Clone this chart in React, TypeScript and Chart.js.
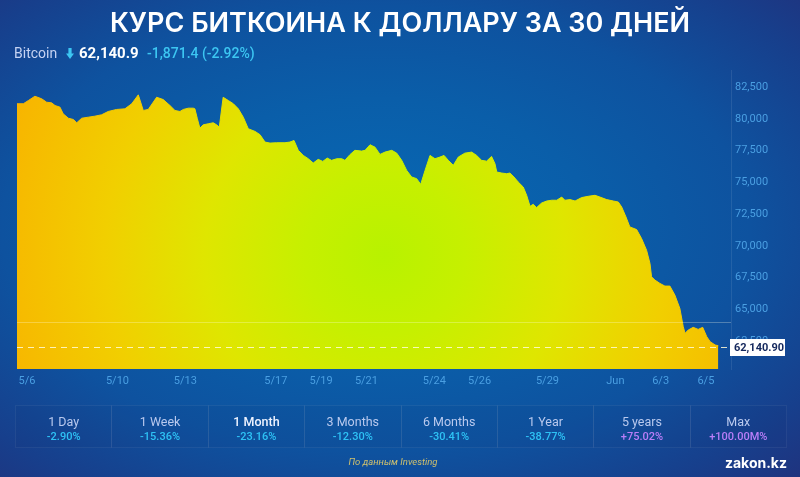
import React, { useEffect, useRef } from "react";
import { Chart, registerables } from "chart.js";

Chart.register(...registerables);

// Days since May 6 (fractional) and BTC/USD price
const dayOffsets = [
  -0.44, -0.16, 0.06, 0.35, 0.65, 0.87, 1.09, 1.24, 1.46, 1.6,
  1.83, 2.05, 2.2, 2.42, 2.71, 3.0, 3.3, 3.59, 3.96, 4.33,
  4.63, 4.92, 5.14, 5.36, 5.73, 6.02, 6.32, 6.54, 6.76, 6.91,
  7.13, 7.35, 7.42, 7.53, 7.64, 7.79, 8.01, 8.23, 8.38, 8.5,
  8.67, 8.9, 9.12, 9.34, 9.56, 9.78, 10.08, 10.3, 10.52, 10.74,
  11.03, 11.4, 11.62, 11.8, 11.99, 12.21, 12.43, 12.65, 12.87, 13.07,
  13.27, 13.46, 13.69, 13.91, 14.05, 14.27, 14.49, 14.79, 14.94, 15.16,
  15.38, 15.6, 15.82, 16.12, 16.34, 16.56, 16.78, 17.0, 17.22, 17.4,
  17.59, 17.81, 18.03, 18.25, 18.43, 18.62, 18.84, 19.06, 19.35, 19.65,
  19.87, 20.09, 20.31, 20.53, 20.68, 20.76, 20.98, 21.2, 21.34, 21.52,
  21.71, 21.93, 22.08, 22.23, 22.37, 22.52, 22.74, 22.97, 23.19, 23.41,
  23.63, 23.77, 24.0, 24.22, 24.51, 24.8, 25.1, 25.32, 25.62, 25.91,
  26.13, 26.28, 26.47, 26.64, 26.94, 27.16, 27.38, 27.53, 27.6, 27.75,
  27.97, 28.19, 28.41, 28.63, 28.85, 29.0, 29.08, 29.22, 29.44, 29.66,
  29.86, 30.04, 30.19, 30.41, 30.55,
];

const prices = [
  81200, 81200, 81450, 81790, 81590, 81320, 81270, 81060, 80930, 80410,
  80060, 79960, 79700, 80060, 80140, 80220, 80330, 80590, 80750, 80800,
  81200, 81900, 80670, 80750, 81710, 81530, 81060, 80670, 80590, 80750,
  80850, 80850, 80800, 80020, 79280, 79540, 79620, 79700, 79540, 79360,
  81710, 81450, 81200, 80800, 80140, 79230, 79020, 78760, 78180, 78100,
  78130, 78130, 78180, 78310, 77530, 77130, 76870, 76530, 76820, 76660,
  76920, 76740, 76870, 76870, 76740, 77190, 77530, 77470, 77530, 77970,
  77780, 77210, 77390, 77530, 77310, 76740, 75950, 75430, 75300, 74850,
  75950, 77130, 76870, 77000, 77130, 76740, 76350, 77000, 77310, 77390,
  77130, 76740, 76680, 77050, 76480, 75820, 75740, 75690, 75740, 75430,
  75030, 74640, 73990, 73120, 73280, 73020, 73380, 73540, 73600, 73600,
  73850, 73600, 73650, 73540, 73810, 73910, 73990, 73850, 73650, 73540,
  73460, 73070, 72280, 71500, 71290, 70580, 69660, 68620, 67570, 67310,
  67050, 66840, 66840, 66130, 65080, 63640, 63120, 63380, 63590, 63430,
  63590, 62850, 62460, 62200, 62140.9,
];

const tickDays = [0, 4, 7, 11, 13, 15, 18, 20, 23, 26, 28, 30];
const tickLabels = ["5/6", "5/10", "5/13", "5/17", "5/19", "5/21", "5/24", "5/26", "5/29", "Jun", "6/3", "6/5"];
const yTickValues = [62500, 65000, 67500, 70000, 72500, 75000, 77500, 80000, 82500];

const lastPrice = 62140.9;
const priceChange = -1871.4;
const priceChangePct = -2.92;
const prevClose = lastPrice - priceChange;

const periods = ["1 Day", "1 Week", "1 Month", "3 Months", "6 Months", "1 Year", "5 years", "Max"];
const periodChanges = ["-2.90%", "-15.36%", "-23.16%", "-12.30%", "-30.41%", "-38.77%", "+75.02%", "+100.00M%"];
const selectedPeriod = "1 Month";

const titleText = "КУРС БИТКОИНА К ДОЛЛАРУ ЗА 30 ДНЕЙ";
const sourceText = "По данным Investing";

const fmt = (v: number, d: number) =>
  v.toLocaleString("en-US", { minimumFractionDigits: d, maximumFractionDigits: d });

const refLinesPlugin = {
  id: "refLines",
  afterDatasetsDraw(chart: any) {
    const { ctx, chartArea, scales } = chart;
    const y = scales.y;
    ctx.save();
    const yp = Math.round(y.getPixelForValue(prevClose)) + 0.5;
    ctx.strokeStyle = "rgba(255,255,235,0.28)";
    ctx.lineWidth = 1;
    ctx.beginPath();
    ctx.moveTo(chartArea.left, yp);
    ctx.lineTo(chartArea.right, yp);
    ctx.stroke();
    const yl = Math.round(y.getPixelForValue(lastPrice)) + 1.5;
    ctx.setLineDash([6, 5]);
    ctx.strokeStyle = "rgba(255,252,215,0.85)";
    ctx.beginPath();
    ctx.moveTo(chartArea.left, yl);
    ctx.lineTo(chartArea.right - 2, yl);
    ctx.stroke();
    ctx.restore();
  },
  afterDraw(chart: any) {
    const { ctx, chartArea, scales } = chart;
    const yl = Math.round(scales.y.getPixelForValue(lastPrice)) + 1;
    ctx.save();
    ctx.fillStyle = "#ffffff";
    ctx.fillRect(chartArea.right - 1, yl - 8, 55, 17);
    ctx.fillStyle = "#13275c";
    ctx.font = "bold 11px Roboto";
    ctx.textBaseline = "middle";
    ctx.textAlign = "left";
    ctx.fillText(fmt(lastPrice, 2), chartArea.right + 3, yl + 1);
    ctx.restore();
  },
};

function fillGradient(context: any) {
  const chart = context.chart;
  const { chartArea } = chart;
  if (!chartArea) return "#e8e000";
  const g = chart.ctx.createRadialGradient(385, 195, 0, 385, 195, 400);
  g.addColorStop(0, "#b8f200");
  g.addColorStop(0.2, "#c6f000");
  g.addColorStop(0.45, "#dfe600");
  g.addColorStop(0.7, "#f1cf00");
  g.addColorStop(1, "#f8b400");
  return g;
}

function PriceChart() {
  const ref = useRef<HTMLCanvasElement>(null);
  useEffect(() => {
    const chart = new Chart(ref.current as HTMLCanvasElement, {
      type: "line",
      data: {
        datasets: [
          {
            data: dayOffsets.map((d, i) => ({ x: d, y: prices[i] })),
            borderColor: fillGradient as any,
            backgroundColor: fillGradient as any,
            borderWidth: 1,
            pointRadius: 0,
            fill: "start",
            tension: 0,
          },
        ],
      },
      options: {
        animation: false,
        responsive: true,
        maintainAspectRatio: false,
        layout: { padding: { left: 17, top: 10, right: 0, bottom: 0 } },
        plugins: { legend: { display: false }, tooltip: { enabled: false } },
        scales: {
          x: {
            type: "linear",
            min: -0.44,
            max: 31.11,
            grid: { display: false, drawTicks: false },
            border: { display: false },
            afterBuildTicks: (scale: any) => {
              scale.ticks = tickDays.map((v) => ({ value: v }));
            },
            afterFit: (scale: any) => {
              scale.height = 21;
            },
            ticks: {
              autoSkip: false,
              maxRotation: 0,
              padding: 6,
              color: "#4a9fe2",
              font: { family: "Roboto", size: 11 },
              callback: (_v: any, i: number) => tickLabels[i],
            },
          },
          y: {
            position: "right",
            min: 60310,
            max: 83810,
            grid: { display: false, drawTicks: false },
            border: { display: true, color: "rgba(255,255,255,0.09)" },
            afterBuildTicks: (scale: any) => {
              scale.ticks = yTickValues.map((v) => ({ value: v }));
            },
            afterFit: (scale: any) => {
              scale.width = 69;
            },
            ticks: {
              padding: 4,
              color: "#4a9fe2",
              font: { family: "Roboto", size: 11 },
              callback: (v: any) => Number(v).toLocaleString("en-US"),
            },
          },
        },
      },
      plugins: [refLinesPlugin],
    } as any);
    return () => chart.destroy();
  }, []);
  return <canvas ref={ref} />;
}

export default function App() {
  const cyan = "#3cc6f2";
  return (
    <div
      style={{
        position: "fixed",
        left: 0,
        top: 0,
        width: 800,
        height: 477,
        overflow: "hidden",
        fontFamily: "Roboto, sans-serif",
        background:
          "radial-gradient(ellipse 78% 78% at 47% 48%, #0769b5 0%, #0a5ea9 35%, #0e529f 60%, #173f8c 82%, #222f7a 100%)",
      }}
    >
      <div
        style={{
          position: "absolute",
          top: 9,
          left: 0,
          width: 800,
          textAlign: "center",
          color: "#ffffff",
          fontFamily: "Inter, sans-serif",
          fontWeight: 600,
          fontSize: 27,
          lineHeight: "28px",
          whiteSpace: "nowrap",
        }}
      >
        {titleText}
      </div>

      <div style={{ position: "absolute", top: 45, left: 0, height: 17, fontSize: 14, lineHeight: "17px", whiteSpace: "nowrap" }}>
        <span style={{ position: "absolute", left: 14, color: "#c6d3f3" }}>Bitcoin</span>
        <svg style={{ position: "absolute", left: 66, top: 3 }} width="8" height="11" viewBox="0 0 8 11">
          <path d="M2.4 0 H5.6 V5.5 H8 L4 11 L0 5.5 H2.4 Z" fill={cyan} />
        </svg>
        <span style={{ position: "absolute", left: 79, color: "#ffffff", fontWeight: 700, fontSize: 15 }}>
          {fmt(lastPrice, 1)}
        </span>
        <span style={{ position: "absolute", left: 147, color: cyan, fontWeight: 500 }}>{fmt(priceChange, 1)}</span>
        <span style={{ position: "absolute", left: 202, color: cyan, fontWeight: 500 }}>
          ({fmt(priceChangePct, 2)}%)
        </span>
      </div>

      <div style={{ position: "absolute", left: 0, top: 60, width: 800, height: 330 }}>
        <PriceChart />
      </div>

      <div style={{ position: "absolute", left: 15, top: 405, width: 772, height: 43, display: "flex" }}>
        {periods.map((p, i) => {
          const val = periodChanges[i];
          const pos = val.startsWith("+");
          const sel = p === selectedPeriod;
          return (
            <div
              key={p}
              style={{
                position: "relative",
                flex: 1,
                border: "1px solid rgba(255,255,255,0.06)",
                marginLeft: i === 0 ? 0 : -1,
                textAlign: "center",
                background: "rgba(10,30,90,0.05)",
              }}
            >
              <div
                style={{
                  position: "absolute",
                  left: 0,
                  right: 0,
                  top: 8,
                  fontSize: 12.5,
                  lineHeight: "15px",
                  color: sel ? "#eef3ff" : "#b9c9ee",
                  fontWeight: sel ? 500 : 400,
                }}
              >
                {p}
              </div>
              <div
                style={{
                  position: "absolute",
                  left: 0,
                  right: 0,
                  top: 24,
                  fontSize: 11,
                  lineHeight: "14px",
                  color: pos ? "#b97ef8" : "#2ec2f5",
                  fontWeight: 500,
                }}
              >
                {val}
              </div>
            </div>
          );
        })}
      </div>

      <div
        style={{
          position: "absolute",
          left: 293,
          width: 200,
          top: 456,
          textAlign: "center",
          fontSize: 9.5,
          lineHeight: "12px",
          fontStyle: "italic",
          color: "#cfc06e",
        }}
      >
        {sourceText}
      </div>
      <div
        style={{
          position: "absolute",
          right: 13,
          top: 454,
          fontSize: 14,
          lineHeight: "18px",
          fontWeight: 700,
          color: "#ffffff",
          fontFamily: "Inter, sans-serif",
        }}
      >
        zakon.kz
      </div>
    </div>
  );
}
